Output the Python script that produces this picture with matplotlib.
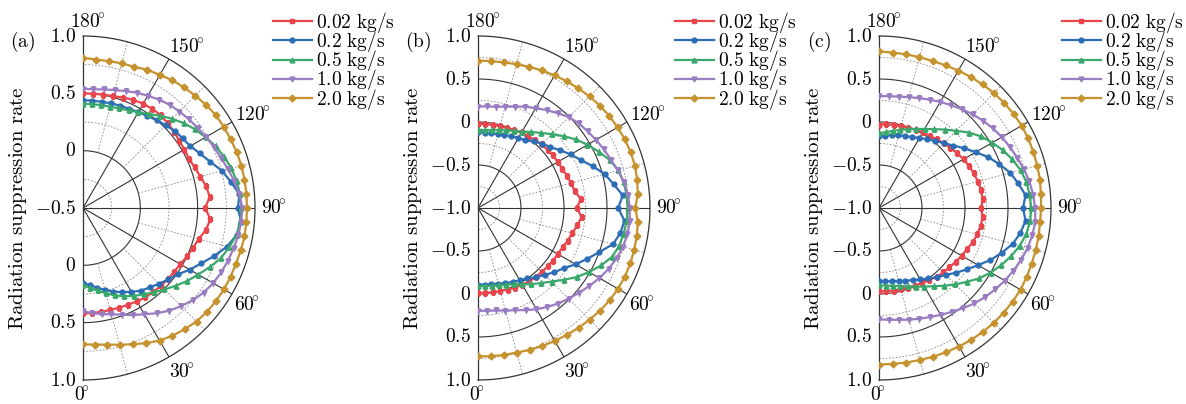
import numpy as np
import matplotlib
matplotlib.use('Agg')
import matplotlib.pyplot as plt

plt.rcParams['mathtext.fontset'] = 'cm'

W, H = 1186, 404

# polar angle of each sample [deg], 0 at the bottom, 180 at the top
angles = np.arange(0, 181, 5)

flow_labels = ['0.02 kg/s', '0.2 kg/s', '0.5 kg/s', '1.0 kg/s', '2.0 kg/s']
colors = ['#E8454C', '#2C6DB5', '#3AA86B', '#9A7CC2', '#C6922E']
markers = ['s', 'o', '^', 'v', 'D']

# (a)
rate_a_002 = [0.42, 0.42, 0.42, 0.42, 0.425, 0.43, 0.44, 0.45, 0.455, 0.46, 0.465, 0.47, 0.48, 0.50, 0.52, 0.545, 0.59, 0.615,
              0.565,
              0.61, 0.59, 0.56, 0.535, 0.52, 0.52, 0.525, 0.535, 0.545, 0.555, 0.555, 0.55, 0.54, 0.525, 0.51, 0.505, 0.50, 0.50]
rate_a_02 = [0.155, 0.175, 0.205, 0.24, 0.275, 0.31, 0.345, 0.38, 0.405, 0.435, 0.47, 0.51, 0.575, 0.64, 0.72, 0.80, 0.86, 0.885,
             0.85,
             0.87, 0.81, 0.755, 0.68, 0.625, 0.58, 0.56, 0.545, 0.52, 0.50, 0.48, 0.465, 0.455, 0.45, 0.445, 0.44, 0.44, 0.44]
rate_a_05 = [0.17, 0.20, 0.23, 0.27, 0.31, 0.35, 0.385, 0.42, 0.46, 0.505, 0.555, 0.61, 0.66, 0.72, 0.78, 0.82, 0.86, 0.875,
             0.88,
             0.875, 0.86, 0.84, 0.81, 0.775, 0.735, 0.695, 0.65, 0.60, 0.55, 0.50, 0.465, 0.44, 0.425, 0.415, 0.41, 0.41, 0.41]
rate_a_10 = [0.40, 0.42, 0.44, 0.46, 0.49, 0.53, 0.57, 0.62, 0.67, 0.71, 0.75, 0.785, 0.81, 0.83, 0.845, 0.86, 0.875, 0.885,
             0.89,
             0.87, 0.84, 0.81, 0.78, 0.76, 0.74, 0.72, 0.705, 0.69, 0.675, 0.655, 0.63, 0.61, 0.585, 0.565, 0.55, 0.54, 0.54]
rate_a_20 = [0.69, 0.695, 0.71, 0.735, 0.765, 0.80, 0.835, 0.86, 0.88, 0.90, 0.91, 0.915, 0.92, 0.92, 0.92, 0.925, 0.93, 0.93,
             0.93,
             0.93, 0.93, 0.93, 0.927, 0.92, 0.918, 0.913, 0.90, 0.885, 0.872, 0.86, 0.84, 0.83, 0.81, 0.806, 0.80, 0.80, 0.81]

# (b)
rate_b_002 = [-0.01, -0.01, -0.005, 0.0, 0.01, 0.02, 0.03, 0.04, 0.045, 0.05, 0.058, 0.065, 0.07, 0.085, 0.11, 0.135, 0.17, 0.21,
              0.15,
              0.20, 0.14, 0.12, 0.10, 0.08, 0.07, 0.065, 0.055, 0.045, 0.03, 0.02, 0.015, 0.0, -0.01, -0.015, -0.02, -0.02, -0.02]
rate_b_02 = [-0.11, -0.105, -0.10, -0.09, -0.07, -0.05, -0.03, 0.0, 0.05, 0.10, 0.16, 0.22, 0.31, 0.40, 0.50, 0.625, 0.68, 0.71,
             0.63,
             0.69, 0.60, 0.525, 0.42, 0.32, 0.245, 0.17, 0.10, 0.06, 0.01, -0.04, -0.06, -0.08, -0.10, -0.11, -0.12, -0.12, -0.12]
rate_b_05 = [-0.09, -0.09, -0.08, -0.07, -0.05, -0.02, 0.025, 0.08, 0.14, 0.21, 0.30, 0.40, 0.49, 0.58, 0.66, 0.70, 0.72, 0.735,
             0.74,
             0.735, 0.72, 0.69, 0.63, 0.55, 0.47, 0.39, 0.30, 0.215, 0.14, 0.08, 0.025, -0.01, -0.04, -0.06, -0.08, -0.09, -0.09]
rate_b_10 = [0.195, 0.20, 0.21, 0.235, 0.265, 0.31, 0.36, 0.405, 0.45, 0.49, 0.535, 0.58, 0.63, 0.675, 0.715, 0.745, 0.765, 0.77,
             0.765,
             0.75, 0.725, 0.685, 0.645, 0.615, 0.585, 0.555, 0.53, 0.495, 0.44, 0.39, 0.34, 0.30, 0.255, 0.22, 0.195, 0.185, 0.18]
rate_b_20 = [0.725, 0.73, 0.735, 0.74, 0.755, 0.77, 0.785, 0.80, 0.82, 0.835, 0.855, 0.87, 0.88, 0.885, 0.885, 0.88, 0.875, 0.865,
             0.83,
             0.865, 0.88, 0.89, 0.89, 0.885, 0.875, 0.865, 0.85, 0.835, 0.815, 0.80, 0.78, 0.765, 0.745, 0.73, 0.72, 0.715, 0.715]

# (c)
rate_c_002 = [-0.03, -0.03, -0.025, -0.02, -0.015, -0.005, 0.005, 0.02, 0.045, 0.06, 0.07, 0.09, 0.11, 0.13, 0.16, 0.185, 0.20, 0.21,
              0.19,
              0.21, 0.205, 0.19, 0.175, 0.155, 0.135, 0.11, 0.085, 0.065, 0.045, 0.025, 0.015, 0.005, -0.005, -0.015, -0.02, -0.025, -0.03]
rate_c_02 = [-0.15, -0.145, -0.135, -0.12, -0.10, -0.075, -0.04, 0.0, 0.05, 0.10, 0.17, 0.245, 0.33, 0.43, 0.52, 0.61, 0.67, 0.71,
             0.675,
             0.71, 0.645, 0.58, 0.49, 0.40, 0.30, 0.21, 0.13, 0.065, 0.02, -0.025, -0.06, -0.09, -0.11, -0.125, -0.14, -0.155, -0.16]
rate_c_05 = [-0.10, -0.095, -0.08, -0.06, -0.03, 0.01, 0.055, 0.11, 0.18, 0.255, 0.335, 0.425, 0.50, 0.57, 0.635, 0.695, 0.74, 0.765,
             0.77,
             0.76, 0.74, 0.705, 0.65, 0.59, 0.52, 0.45, 0.365, 0.27, 0.19, 0.12, 0.06, 0.015, -0.025, -0.06, -0.09, -0.115, -0.13]
rate_c_10 = [0.295, 0.305, 0.32, 0.345, 0.37, 0.40, 0.435, 0.475, 0.52, 0.57, 0.61, 0.65, 0.69, 0.725, 0.76, 0.79, 0.81, 0.825,
             0.815,
             0.80, 0.775, 0.745, 0.71, 0.68, 0.65, 0.615, 0.58, 0.54, 0.50, 0.46, 0.425, 0.39, 0.36, 0.335, 0.315, 0.305, 0.30]
rate_c_20 = [0.82, 0.82, 0.825, 0.83, 0.84, 0.85, 0.86, 0.87, 0.88, 0.888, 0.893, 0.897, 0.90, 0.895, 0.89, 0.887, 0.885, 0.88,
             0.885,
             0.89, 0.90, 0.905, 0.91, 0.915, 0.915, 0.91, 0.90, 0.89, 0.875, 0.86, 0.845, 0.83, 0.82, 0.815, 0.815, 0.815, 0.82]

# tag, centre x [px], radius at the centre, series, legend x [px]
panels = [
    ('(a)', 83, -0.5, [rate_a_002, rate_a_02, rate_a_05, rate_a_10, rate_a_20], 273),
    ('(b)', 478, -1.0, [rate_b_002, rate_b_02, rate_b_05, rate_b_10, rate_b_20], 675),
    ('(c)', 879, -1.0, [rate_c_002, rate_c_02, rate_c_05, rate_c_10, rate_c_20], 1062),
]

R = 172       # outer radius in pixels
CY = 208      # centre height (from top) in pixels
FS = 14

# pixel offsets of the angle labels from the rim
theta_offsets = {0: (-1, -15), 30: (13, -15), 60: (15, -11), 90: (19, 0),
                 120: (21, 7), 150: (18, 12), 180: (5, 14)}


def rlabel(r):
    if r == 0:
        return r'$0$'
    return r'$%.1f$' % r


fig = plt.figure(figsize=(W / 100., H / 100.), dpi=100)

for tag, cx, rmin, series, lx in panels:
    # square box; the half disc is centred in it, so shift left by R/2
    ax = fig.add_axes([(cx - R / 2.) / W, (H - CY - R) / H, 2 * R / W, 2 * R / H], projection='polar')
    ax.set_theta_zero_location('S')
    ax.set_theta_direction(1)
    ax.set_thetamin(0)
    ax.set_thetamax(180)
    ax.set_rlim(rmin, 1.0)
    ax.grid(False)
    ax.set_xticks([])
    ax.set_yticks([])
    for side in ax.spines.values():
        side.set_linewidth(0.9)
        side.set_color('#333333')

    # grid: solid rings at the ticks, dotted rings halfway between
    th = np.linspace(0, np.pi, 300)
    rticks = np.arange(rmin, 1.0001, 0.5)
    for r in rticks[1:-1]:
        ax.plot(th, np.full_like(th, r), color='#333333', lw=0.8, zorder=1)
    for r in rticks[:-1] + 0.25:
        ax.plot(th, np.full_like(th, r), color='#888888', lw=0.6, ls=(0, (2, 2)), zorder=1)
    for deg in range(30, 180, 30):
        t = np.deg2rad(deg)
        ax.plot([t, t], [rmin, 1.0], color='#333333', lw=0.8, zorder=1)
    for deg in range(15, 180, 30):
        t = np.deg2rad(deg)
        ax.plot([t, t], [rticks[1], 1.0], color='#888888', lw=0.6, ls=(0, (2, 2)), zorder=1)

    for vals, lab, col, mk in zip(series, flow_labels, colors, markers):
        ax.plot(np.deg2rad(angles), vals, color=col, lw=1.6, marker=mk, ms=3.5,
                label=r'$\mathrm{%s}$' % lab.replace(' ', r'\ '), zorder=3)

    # angle labels around the rim
    for deg, (dx, dy) in theta_offsets.items():
        ax.annotate(r'$%d\!^{\circ}$' % deg, xy=(np.deg2rad(deg), 1.0), xytext=(dx, dy),
                    textcoords='offset pixels', ha='center', va='center', fontsize=FS,
                    annotation_clip=False)

    # radial labels on both halves of the vertical edge
    for r in rticks:
        ax.annotate(rlabel(r), xy=(np.pi, r), xytext=(-7, 0), textcoords='offset pixels',
                    ha='right', va='center', fontsize=FS, annotation_clip=False)
        if r != rmin:
            ax.annotate(rlabel(r), xy=(0, r), xytext=(-7, 0), textcoords='offset pixels',
                        ha='right', va='center', fontsize=FS, annotation_clip=False)

    fig.text((cx - 60) / W, 1 - 42 / H, r'$\mathrm{%s}$' % tag, ha='center', va='center', fontsize=FS)
    fig.text((cx - 65) / W, 1 - CY / H, r'$\mathrm{Radiation\ suppression\ rate}$', rotation=90,
             ha='center', va='center', fontsize=15)

    handles, labels = ax.get_legend_handles_labels()
    fig.legend(handles, labels, loc='upper left', bbox_to_anchor=(lx / W, 1 - 10 / H),
               frameon=False, fontsize=FS, handlelength=2.0, handletextpad=0.2, labelspacing=-0.3,
               borderpad=0, borderaxespad=0)

fig.savefig('out.png', dpi=100)
